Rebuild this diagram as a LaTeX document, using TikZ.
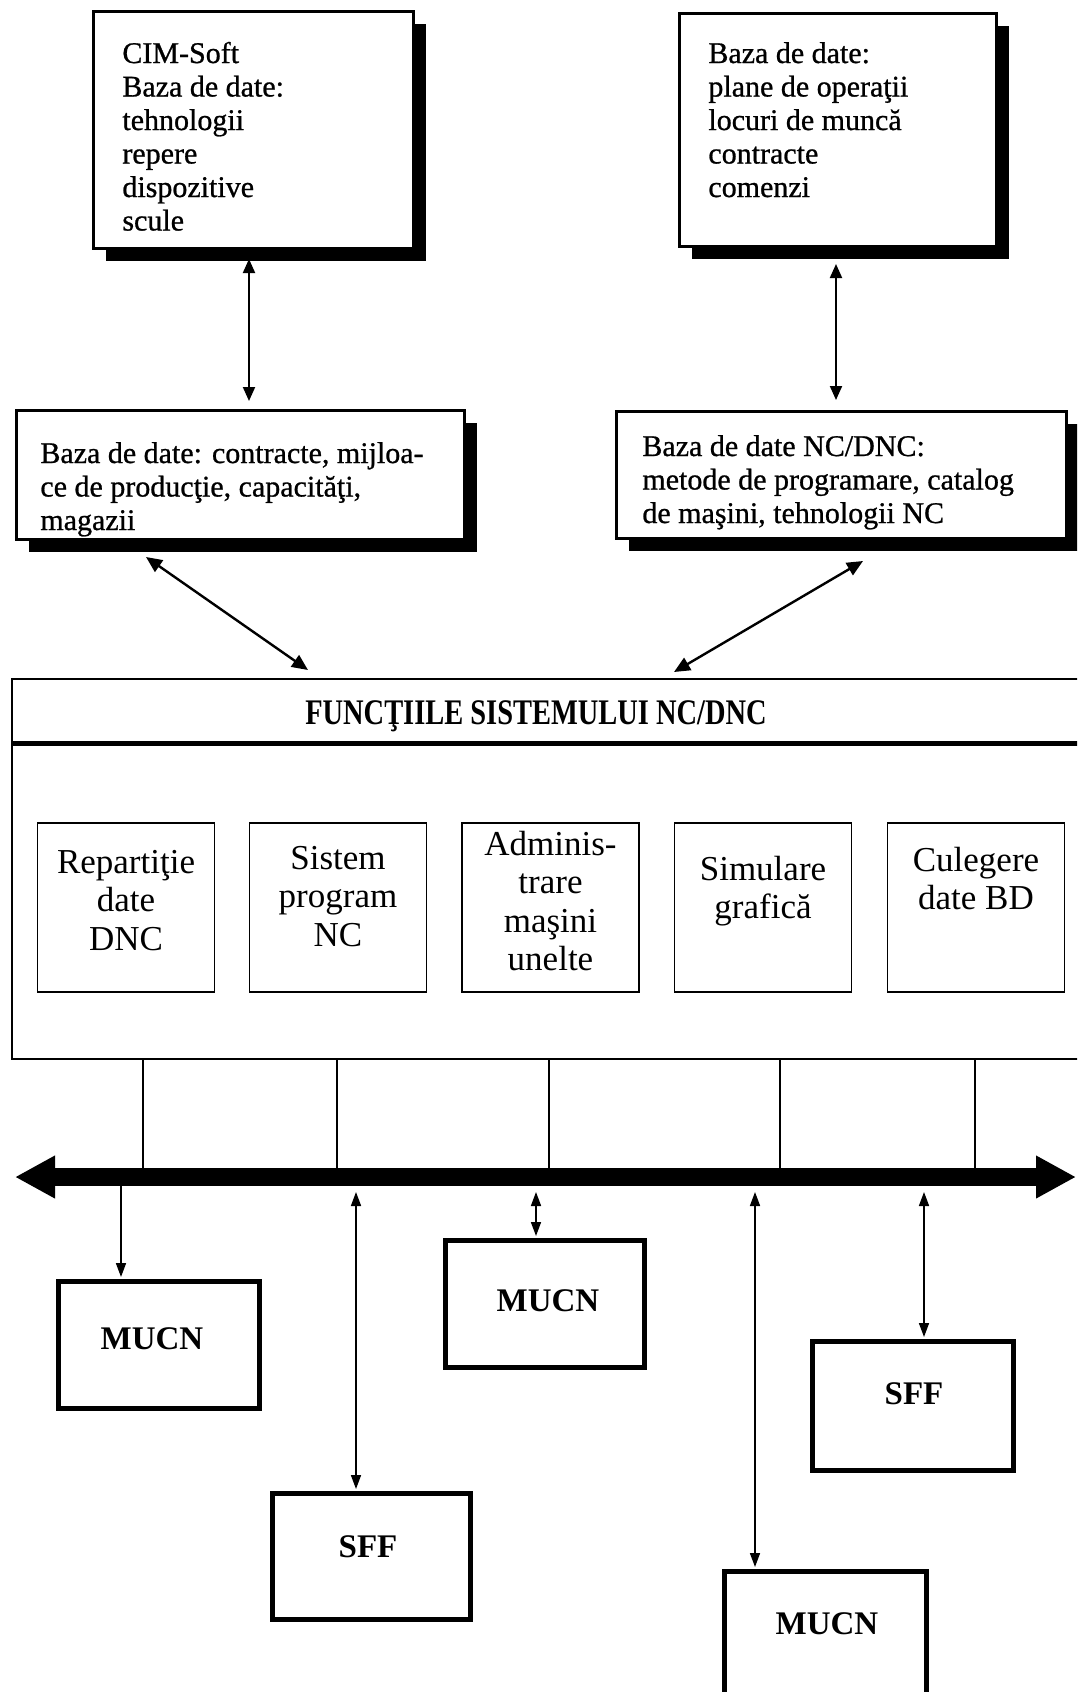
\documentclass[tikz,border=0pt]{standalone}
\usepackage{fontspec}
\setmainfont{Liberation Serif}
\newfontfamily\dbfont{Liberation Serif}[FakeBold=0.8]
\usepackage{graphicx}
\usetikzlibrary{arrows.meta,calc,shadows}

% stacked lines whose baseline is the first line
\newcommand{\leftlines}[1]{\begin{tabular}[t]{@{}l@{}}#1\end{tabular}}
\newcommand{\midlines}[1]{\begin{tabular}[t]{@{}c@{}}#1\end{tabular}}

\begin{document}
\begin{tikzpicture}[x=0.5pt,y=-0.5pt,
  dbbox/.style={draw, line width=1.5pt, fill=white, inner sep=0pt, anchor=north west,
    drop shadow={shadow xshift=6pt, shadow yshift=-6pt, fill=black, opacity=1}},
  dbtext/.style={font=\dbfont\fontsize{15}{16.75}\selectfont, inner sep=0pt, anchor=base west},
  fnbox/.style={draw, line width=0.75pt, inner sep=0pt, minimum width=88.5pt, minimum height=84.5pt},
  fntext/.style={font=\fontsize{17.5}{19.3}\selectfont, inner sep=0pt, anchor=base},
  unitbox/.style={draw, line width=2.5pt, inner sep=0pt, anchor=north west},
  unittext/.style={font=\bfseries\fontsize{16.5}{18}\selectfont, inner sep=0pt, anchor=base},
  link/.style={line width=1pt, {Triangle[length=7pt,width=6pt]}-{Triangle[length=7pt,width=6pt]}},
  slant/.style={line width=1.2pt, {Triangle[length=8pt,width=7pt]}-{Triangle[length=8pt,width=7pt]}},
  drop/.style={line width=0.8pt, -{Triangle[length=7pt,width=5pt]}},
  droplink/.style={line width=0.8pt, {Triangle[length=7pt,width=5pt]}-{Triangle[length=7pt,width=5pt]}},
  tap/.style={line width=0.7pt},
  bus/.style={line width=9pt, {Triangle[length=20pt,width=20pt]}-{Triangle[length=20pt,width=20pt]}}
]
\useasboundingbox (0,0) rectangle (1077,1692);
\clip (0,0) rectangle (1077,1692);

% ---- databases ----
\node[dbbox, minimum width=160pt, minimum height=118.5pt] (cim) at (92,10) {};
\node[dbtext] (cimtxt) at (122,63) {\leftlines{CIM-Soft\\Baza de date:\\tehnologii\\repere\\dispozitive\\scule}};

\node[dbbox, minimum width=158.5pt, minimum height=116.5pt] (plan) at (678,12) {};
\node[dbtext] (plantxt) at (708,63) {\leftlines{Baza de date:\\plane de operaţii\\locuri de muncă\\contracte\\comenzi}};

\node[dbbox, minimum width=224pt, minimum height=64.5pt] (prod) at (15,409) {};
\node[dbtext] (prodtxt) at (40,463) {\leftlines{Baza de date: contracte, mijloa-\\ce de producţie, capacităţi,\\magazii}};

\node[dbbox, minimum width=225pt, minimum height=63.5pt] (ncdb) at (615,410) {};
\node[dbtext] (ncdbtxt) at (642,456) {\leftlines{Baza de date NC/DNC:\\metode de programare, catalog\\de maşini, tehnologii NC}};

\coordinate (xl) at (249,0);
\coordinate (xr) at (836,0);
\draw[link] ($(cim.south -| xl)+(0,9)$) -- ($(prod.north -| xl)+(0,-8)$);
\draw[link] ($(plan.south -| xr)+(0,16)$) -- ($(ncdb.north -| xr)+(0,-10)$);

% ---- NC/DNC functions ----
\node[draw, line width=1pt, inner sep=0pt, anchor=north west,
      minimum width=540pt, minimum height=190pt] (fbox) at (11,678) {};
\coordinate (hdr) at (0,743);
\draw[line width=2.5pt] (fbox.west |- hdr) -- (fbox.east |- hdr);
\node[font=\bfseries\fontsize{18}{20}\selectfont, inner sep=0pt, anchor=base] (fhead) at (536,724)
  {\scalebox{0.79}[1]{FUNCŢIILE SISTEMULUI NC/DNC}};

\draw[slant] ($(prod.south west)+(131,16)$) -- ($(fbox.north west)+(297,-8)$);
\draw[slant] ($(ncdb.south west)+(248,21)$) -- ($(fbox.north west)+(663,-6)$);

\node[fnbox] (f1) at (126,907.5) {};
\node[fnbox] (f2) at (338,907.5) {};
\node[fnbox] (f3) at (550.5,907.5) {};
\node[fnbox] (f4) at (763,907.5) {};
\node[fnbox] (f5) at (976,907.5) {};
\node[fntext] (f1txt) at (126,873) {\midlines{Repartiţie\\date\\DNC}};
\node[fntext] (f2txt) at (338,869) {\midlines{Sistem\\program\\NC}};
\node[fntext] (f3txt) at (550.5,855) {\midlines{Adminis-\\trare\\maşini\\unelte}};
\node[fntext] (f4txt) at (763,880) {\midlines{Simulare\\grafică}};
\node[fntext] (f5txt) at (976,871) {\midlines{Culegere\\date BD}};

% ---- network bus ----
\foreach \x [count=\i] in {143,337,549,780,975} {
  \coordinate (tap\i) at (\x,1177);
  \draw[tap] (fbox.south -| tap\i) -- (tap\i);
}
\coordinate (busL) at (15,1177);
\coordinate (busR) at (1076,1177);

% ---- machines and flexible cells ----
\node[unitbox, minimum width=100.5pt, minimum height=63.5pt] (mucnA) at (56,1279) {};
\node[unittext] (mucnAtxt) at (152,1349) {MUCN};
\node[unitbox, minimum width=99pt, minimum height=63pt] (sffA) at (270,1491) {};
\node[unittext] (sffAtxt) at (368,1557) {SFF};
\node[unitbox, minimum width=99.5pt, minimum height=63.5pt] (mucnB) at (443,1238) {};
\node[unittext] (mucnBtxt) at (548,1311) {MUCN};
\node[unitbox, minimum width=100.5pt, minimum height=64.5pt] (sffB) at (810,1339) {};
\node[unittext] (sffBtxt) at (914,1404) {SFF};
\node[unitbox, minimum width=101pt, minimum height=75pt] (mucnC) at (722,1569) {};
\node[unittext] (mucnCtxt) at (827,1634) {MUCN};

\coordinate (pA) at (121,1180);
\coordinate (pB) at (356,1192);
\coordinate (pC) at (536,1192);
\coordinate (pD) at (755,1192);
\coordinate (pE) at (924,1192);
\draw[drop] (pA) -- ($(pA |- mucnA.north)+(0,-2)$);
\draw[droplink] (pB) -- ($(pB |- sffA.north)+(0,-2)$);
\draw[droplink] (pC) -- ($(pC |- mucnB.north)+(0,-2)$);
\draw[droplink] (pD) -- ($(pD |- mucnC.north)+(0,-2)$);
\draw[droplink] (pE) -- ($(pE |- sffB.north)+(0,-2)$);

\draw[bus] (busL) -- (busR);
\end{tikzpicture}
\end{document}
